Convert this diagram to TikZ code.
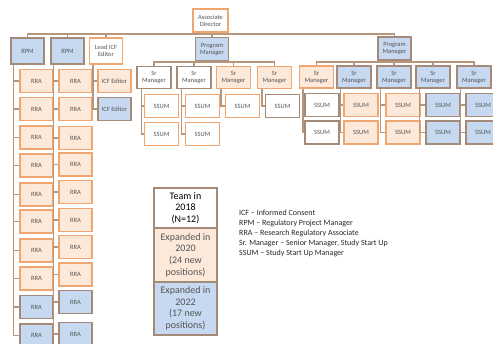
\documentclass[tikz,border=0pt]{standalone}
\usepackage{fontspec}
\setmainfont{Carlito}
\definecolor{orF}{HTML}{FDE9D9}
\definecolor{orB}{HTML}{EFA670}
\definecolor{blF}{HTML}{C6D9F1}
\definecolor{blB}{HTML}{A48A78}
\definecolor{lnC}{HTML}{B8967C}
\definecolor{txC}{HTML}{555555}
\begin{document}
\begin{tikzpicture}[x=1pt,y=-1pt,
  conn/.style={draw=lnC, line width=1.4pt},
  bx/.style={draw, line width=1.1pt, inner sep=0pt, align=center, font=\fontsize{6.5}{7}\selectfont, text=txC},
  ob/.style={bx, fill=orF, draw=orB},
  bb/.style={bx, fill=blF, draw=blB},
  wb/.style={bx, fill=white, draw=orB},
  wg/.style={bx, fill=white, draw=blB},
  topbox/.style={minimum width=33pt, minimum height=26pt},
  midbox/.style={minimum width=33pt, minimum height=23pt},
  smbox/.style={minimum width=34pt, minimum height=22pt},
  ssbox/.style={minimum width=34pt, minimum height=23pt},
  legbox/.style={draw=blB, line width=1.1pt, minimum width=63pt, align=center, inner sep=0pt, font=\fontsize{10}{11.6}\selectfont},
]
\useasboundingbox (0,0) rectangle (493,344);
\clip (0,0) rectangle (493,344);

% top level
\node[wb, minimum width=35pt, minimum height=23pt] (ad) at (210.5,20.5) {Associate\\Director};
\node[bb, topbox] (rpm1) at (27.5,51) {RPM};
\node[bb, topbox] (rpm2) at (67.5,51) {RPM};
\node[wb, topbox] (licf) at (106,51) {Lead ICF\\Editor};
\node[bb, midbox] (pm1) at (212,49) {Program\\Manager};
\node[bb, midbox] (pm2) at (394.5,48.5) {Program\\Manager};

\coordinate (b0) at (0,34);
\draw[conn] (ad.south) -- (ad.south |- b0);
\draw[conn] (rpm1.north) -- (rpm1.north |- b0) -- (pm2.north |- b0) -- (pm2.north);
\draw[conn] (rpm2.north) -- (rpm2.north |- b0);
\draw[conn] (licf.north) -- (licf.north |- b0);
\draw[conn] (pm1.north) -- (pm1.north |- b0);

% RPM1 column
\foreach \i/\y/\s in {1/81/ob,2/109/ob,3/137.5/ob,4/165.5/ob,5/194.5/ob,6/221.5/ob,7/250.5/ob,8/278.5/ob,9/307/bb,10/335.5/bb}{
  \node[\s, midbox] (ra\i) at (36.5,\y) {RRA};
  \draw[conn] ([xshift=3pt]rpm1.south west) |- (ra\i.west);
}
% RPM2 column
\foreach \i/\y/\s in {1/81/ob,2/109/ob,3/138/ob,4/164.5/ob,5/192/ob,6/220/ob,7/247/ob,8/274.5/ob,9/302/bb,10/334/bb}{
  \node[\s, midbox] (rb\i) at (75.5,\y) {RRA};
  \draw[conn] ([xshift=3pt]rpm2.south west) |- (rb\i.west);
}
% ICF editors
\node[ob, midbox] (ie1) at (114.5,81) {ICF Editor};
\node[bb, midbox] (ie2) at (114.5,109) {ICF Editor};
\draw[conn] ([xshift=4pt]licf.south west) |- (ie1.west);
\draw[conn] ([xshift=4pt]licf.south west) |- (ie2.west);

% PM1 Sr managers
\node[wg, smbox] (s11) at (154,77.5) {Sr\\Manager};
\node[wg, smbox] (s12) at (194,77.5) {Sr\\Manager};
\node[ob, smbox] (s13) at (233.5,77.5) {Sr\\Manager};
\node[ob, smbox] (s14) at (274.5,77.5) {Sr\\Manager};
\coordinate (b1) at (0,62);
\draw[conn] (pm1.south) -- (pm1.south |- b1);
\draw[conn] (s11.north) -- (s11.north |- b1) -- (s14.north |- b1) -- (s14.north);
\draw[conn] (s12.north) -- (s12.north |- b1);
\draw[conn] (s13.north) -- (s13.north |- b1);

\node[wb, ssbox] (c111) at (161.5,106) {SSUM};
\node[wb, ssbox] (c112) at (161.5,134) {SSUM};
\node[wb, ssbox] (c121) at (202.5,106) {SSUM};
\node[wb, ssbox] (c122) at (202.5,134) {SSUM};
\node[wb, ssbox] (c131) at (242.5,106) {SSUM};
\node[wg, ssbox] (c141) at (282.5,106) {SSUM};
\draw[conn] ([xshift=5pt]s11.south west) |- (c111.west);
\draw[conn] ([xshift=5pt]s11.south west) |- (c112.west);
\draw[conn] ([xshift=5pt]s12.south west) |- (c121.west);
\draw[conn] ([xshift=5pt]s12.south west) |- (c122.west);
\draw[conn] ([xshift=5pt]s13.south west) |- (c131.west);
\draw[conn] ([xshift=5pt]s14.south west) |- (c141.west);

% PM2 Sr managers
\node[ob, smbox] (s21) at (316.5,77) {Sr\\Manager};
\node[bb, smbox] (s22) at (354,77) {Sr\\Manager};
\node[bb, smbox] (s23) at (394,77) {Sr\\Manager};
\node[bb, smbox] (s24) at (433,77) {Sr\\Manager};
\node[bb, smbox] (s25) at (474,77) {Sr\\Manager};
\draw[conn] (pm2.south) -- (pm2.south |- b1);
\draw[conn] (s21.north) -- (s21.north |- b1) -- (s25.north |- b1) -- (s25.north);
\draw[conn] (s22.north) -- (s22.north |- b1);
\draw[conn] (s23.north) -- (s23.north |- b1);
\draw[conn] (s24.north) -- (s24.north |- b1);

\foreach \k/\x/\s in {1/322/wg,2/361/ob,3/403/ob,4/443/bb,5/483/bb}{
  \node[\s, ssbox] (d\k a) at (\x,105) {SSUM};
  \node[\s, ssbox] (d\k b) at (\x,132.5) {SSUM};
  \draw[conn] ([xshift=4pt]s2\k.south west) |- (d\k a.west);
  \draw[conn] ([xshift=4pt]s2\k.south west) |- (d\k b.west);
}

% legend box
\node[legbox, fill=white, minimum height=40pt] (lg1) at (185.5,208) {Team in\\2018\\(N=12)};
\node[legbox, fill=orF, minimum height=54pt, text=txC] (lg2) at (185.5,255) {Expanded in\\2020\\(24 new\\positions)};
\node[legbox, fill=blF, minimum height=53pt, text=txC] (lg3) at (185.5,308.5) {Expanded in\\2022\\(17 new\\positions)};

\node[anchor=west, align=left, inner sep=0pt, font=\fontsize{8}{10.2}\selectfont, text=black!85] (abbr) at (239,233.5)
{ICF – Informed Consent\\RPM – Regulatory Project Manager\\RRA – Research Regulatory Associate\\Sr. Manager – Senior Manager, Study Start Up\\SSUM – Study Start Up Manager};
\end{tikzpicture}
\end{document}
